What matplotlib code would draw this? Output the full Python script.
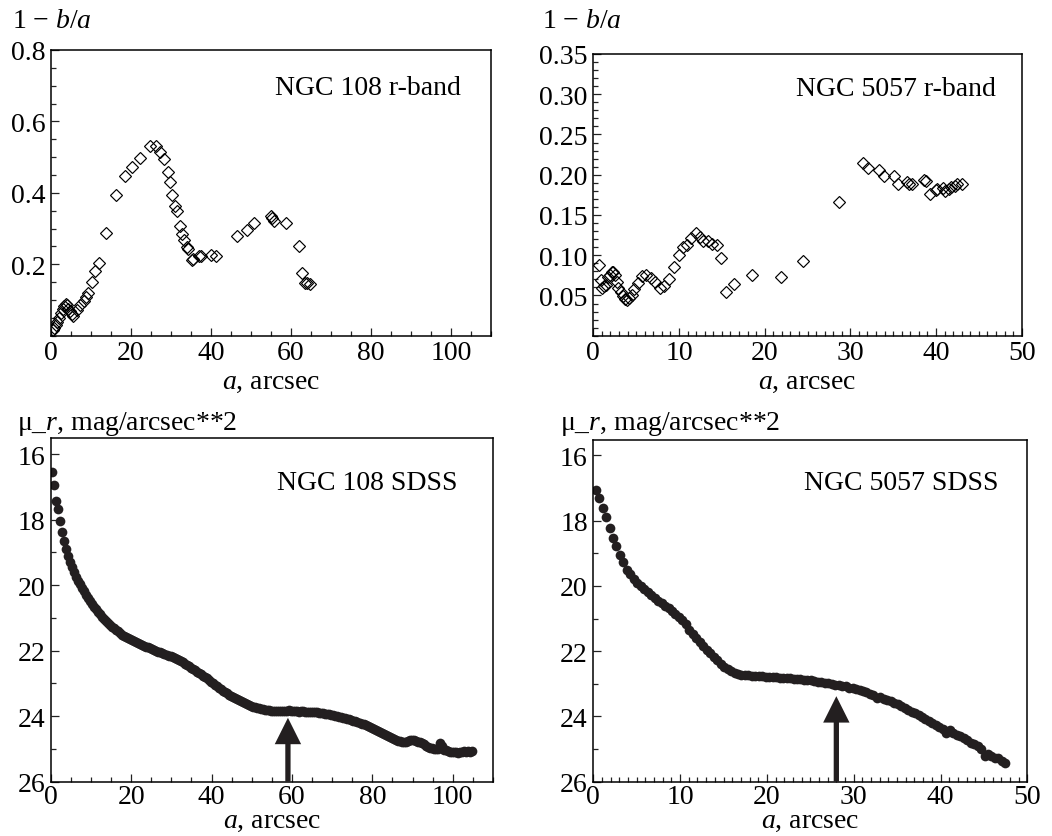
import numpy as np
import matplotlib
matplotlib.use("Agg")
import matplotlib.pyplot as plt
from matplotlib.ticker import MultipleLocator, FixedLocator, FormatStrFormatter

plt.rcParams['font.family'] = ['Liberation Serif', 'DejaVu Serif']
plt.rcParams['mathtext.fontset'] = 'custom'
plt.rcParams['mathtext.rm'] = 'Liberation Serif'
plt.rcParams['mathtext.it'] = 'Liberation Serif:italic'

# --- NGC 108, 1 - b/a (r-band) ---
a_108 = [0.66, 0.9, 1.24, 1.66, 2.16, 2.58, 3.0, 3.4, 3.8, 4.1, 4.4, 4.8, 5.2, 5.6,
         6.5, 7.3, 8.2, 8.8, 9.4, 10.25, 11.1, 12.0, 13.8, 16.4, 18.6, 20.2, 22.2,
         24.7, 26.3, 27.3, 28.3, 29.2, 29.8, 30.4, 31.0, 31.5, 32.2, 32.7, 33.2,
         34.0, 34.3, 35.3, 35.6, 37.0, 37.6, 40.1, 41.3, 46.5, 49.1, 50.8, 55.1,
         55.3, 55.7, 58.8, 62.0, 62.9, 63.6, 64.0, 64.7]
e_108 = [0.016, 0.021, 0.030, 0.039, 0.050, 0.063, 0.075, 0.084, 0.088, 0.086, 0.075,
         0.069, 0.061, 0.054, 0.072, 0.087, 0.097, 0.107, 0.120, 0.151, 0.180, 0.204,
         0.287, 0.394, 0.448, 0.472, 0.498, 0.531, 0.531, 0.513, 0.494, 0.457, 0.431,
         0.394, 0.362, 0.348, 0.306, 0.285, 0.269, 0.247, 0.243, 0.213, 0.214, 0.222,
         0.222, 0.226, 0.222, 0.278, 0.297, 0.315, 0.334, 0.329, 0.321, 0.316, 0.252,
         0.176, 0.147, 0.147, 0.145]

# --- NGC 5057, 1 - b/a (r-band) ---
a_5057 = [0.66, 0.93, 1.05, 1.25, 1.5, 1.67, 1.9, 2.14, 2.33, 2.5, 2.72, 2.92, 3.19,
          3.42, 3.7, 3.9, 4.16, 4.47, 4.79, 5.2, 5.7, 6.19, 6.7, 7.2, 7.74, 8.29, 8.87,
          9.38, 9.96, 10.47, 10.97, 11.44, 11.95, 12.4, 12.8, 13.35, 13.85, 14.4, 14.9,
          15.5, 16.4, 18.56, 21.87, 24.47, 28.7, 31.5, 32.1, 33.3, 33.9, 35.1, 35.6,
          36.65, 36.9, 37.2, 38.6, 38.8, 39.3, 39.96, 40.16, 40.8, 41.1, 41.5, 41.8,
          42.2, 42.4, 43.0]
e_5057 = [0.088, 0.069, 0.059, 0.062, 0.063, 0.073, 0.076, 0.079, 0.079, 0.075, 0.067,
          0.059, 0.054, 0.049, 0.045, 0.044, 0.047, 0.051, 0.058, 0.065, 0.074, 0.076,
          0.072, 0.067, 0.059, 0.062, 0.071, 0.085, 0.100, 0.110, 0.113, 0.122, 0.127,
          0.123, 0.118, 0.118, 0.114, 0.113, 0.096, 0.054, 0.064, 0.076, 0.073, 0.093,
          0.166, 0.214, 0.208, 0.206, 0.198, 0.198, 0.188, 0.191, 0.189, 0.188, 0.194,
          0.192, 0.176, 0.181, 0.182, 0.184, 0.180, 0.182, 0.185, 0.186, 0.189, 0.188]

# --- SDSS surface brightness profiles (radius grid start, step) ---
r0_108, dr_108 = 0.3, 0.5
mu_108 = [
    16.54, 16.95, 17.42, 17.68, 18.05, 18.38, 18.65, 18.90, 19.10, 19.30,
    19.45, 19.60, 19.74, 19.87, 19.98, 20.10, 20.19, 20.29, 20.38, 20.50,
    20.57, 20.66, 20.73, 20.82, 20.89, 20.96, 21.03, 21.10, 21.15, 21.21,
    21.27, 21.32, 21.37, 21.41, 21.46, 21.51, 21.55, 21.59, 21.62, 21.66,
    21.69, 21.72, 21.75, 21.78, 21.80, 21.83, 21.85, 21.88, 21.90, 21.93,
    21.95, 21.98, 22.00, 22.03, 22.05, 22.08, 22.10, 22.12, 22.15, 22.17,
    22.20, 22.23, 22.27, 22.30, 22.33, 22.36, 22.40, 22.44, 22.48, 22.52,
    22.56, 22.60, 22.64, 22.68, 22.72, 22.76, 22.80, 22.85, 22.90, 22.95,
    23.00, 23.04, 23.09, 23.13, 23.17, 23.22, 23.26, 23.30, 23.34, 23.38,
    23.42, 23.45, 23.49, 23.52, 23.55, 23.58, 23.61, 23.64, 23.67, 23.69,
    23.71, 23.73, 23.75, 23.76, 23.78, 23.79, 23.80, 23.81, 23.82, 23.83,
    23.84, 23.84, 23.85, 23.83, 23.84, 23.85, 23.83, 23.84, 23.82, 23.84,
    23.85, 23.83, 23.84, 23.86, 23.84, 23.85, 23.87, 23.86, 23.88, 23.86,
    23.87, 23.86, 23.88, 23.90, 23.89, 23.91, 23.93, 23.92, 23.94, 23.96,
    23.97, 23.99, 24.00, 24.02, 24.04, 24.05, 24.07, 24.09, 24.10, 24.12,
    24.14, 24.15, 24.17, 24.20, 24.23, 24.25, 24.28, 24.31, 24.34, 24.37,
    24.40, 24.42, 24.45, 24.48, 24.50, 24.53, 24.57, 24.60, 24.63, 24.66,
    24.69, 24.72, 24.75, 24.77, 24.79, 24.80, 24.78, 24.76, 24.74, 24.73,
    24.74, 24.76, 24.78, 24.80, 24.83, 24.86, 24.90, 24.93, 24.96, 24.98,
    25.00, 25.01, 25.00, 24.82, 24.90, 25.02, 25.04, 25.06, 25.08, 25.10,
    25.10, 25.09, 25.11, 25.08, 25.10, 25.07, 25.09, 25.06, 25.08, 25.07,
]
r0_5057, dr_5057 = 0.27, 0.4
mu_5057 = [
    17.05, 17.30, 17.61, 17.90, 18.22, 18.52, 18.79, 19.06, 19.26, 19.50,
    19.64, 19.78, 19.90, 20.01, 20.11, 20.19, 20.27, 20.38, 20.45, 20.53,
    20.61, 20.69, 20.77, 20.86, 20.96, 21.06, 21.18, 21.34, 21.46, 21.60,
    21.72, 21.84, 21.96, 22.07, 22.18, 22.28, 22.38, 22.47, 22.55, 22.61,
    22.66, 22.69, 22.72, 22.73, 22.74, 22.75, 22.76, 22.77, 22.77, 22.78,
    22.79, 22.80, 22.80, 22.81, 22.82, 22.83, 22.83, 22.84, 22.85, 22.86,
    22.88, 22.89, 22.88, 22.92, 22.93, 22.95, 22.97, 22.98, 23.00, 23.03,
    23.05, 23.07, 23.08, 23.12, 23.14, 23.15, 23.20, 23.22, 23.26, 23.30,
    23.34, 23.42, 23.40, 23.46, 23.50, 23.54, 23.58, 23.63, 23.68, 23.74,
    23.80, 23.85, 23.90, 23.96, 24.02, 24.07, 24.14, 24.20, 24.26, 24.32,
    24.38, 24.50, 24.42, 24.50, 24.57, 24.60, 24.67, 24.72, 24.82, 24.85,
    24.90, 25.00, 25.20, 25.16, 25.20, 25.26, 25.28, 25.36, 25.44,
]
arrow_108 = (59, 24.05)
arrow_5057 = (28, 23.38)

r_108 = r0_108 + dr_108 * np.arange(len(mu_108))
r_5057 = r0_5057 + dr_5057 * np.arange(len(mu_5057))

W, H = 1052, 837
fig = plt.figure(figsize=(W / 100, H / 100), dpi=100)


def px_axes(l, t, r, b):
    return fig.add_axes([l / W, 1 - b / H, (r - l) / W, (b - t) / H])


ax1 = px_axes(50.7, 51, 491, 336.7)
ax2 = px_axes(593.3, 55, 1021.7, 336.7)
ax3 = px_axes(50.7, 439.3, 493, 782.7)
ax4 = px_axes(593.3, 440.7, 1027.3, 782.7)

FS = 20
dot = '#231f20'

ax1.plot(a_108, e_108, 'D', ms=5.8, mfc='none', mec='black', mew=0.85)
ax2.plot(a_5057, e_5057, 'D', ms=5.8, mfc='none', mec='black', mew=0.85)
ax3.plot(r_108, mu_108, 'o', ms=7, color=dot, mec='none')
ax4.plot(r_5057, mu_5057, 'o', ms=7, color=dot, mec='none')

for ax, (xa, ya) in [(ax3, arrow_108), (ax4, arrow_5057)]:
    ax.annotate('', xy=(xa, ya), xytext=(xa, 26),
                arrowprops=dict(facecolor=dot, edgecolor='none', width=3.8,
                                headwidth=19, headlength=19, shrink=0))

# limits & ticks
ax1.set_xlim(0, 110); ax1.set_ylim(0, 0.8)
ax1.xaxis.set_major_locator(MultipleLocator(20)); ax1.xaxis.set_minor_locator(MultipleLocator(5))
ax1.yaxis.set_major_locator(FixedLocator([0.2, 0.4, 0.6, 0.8]))
ax1.yaxis.set_minor_locator(MultipleLocator(0.05))
ax1.yaxis.set_major_formatter(FormatStrFormatter('%.1f'))

ax2.set_xlim(0, 50); ax2.set_ylim(0, 0.35)
ax2.xaxis.set_major_locator(MultipleLocator(10)); ax2.xaxis.set_minor_locator(MultipleLocator(1))
ax2.yaxis.set_major_locator(FixedLocator([0.05, 0.10, 0.15, 0.20, 0.25, 0.30, 0.35]))
ax2.yaxis.set_minor_locator(MultipleLocator(0.01))
ax2.yaxis.set_major_formatter(FormatStrFormatter('%.2f'))

ax3.set_xlim(0, 110); ax3.set_ylim(26, 15.52)
ax3.xaxis.set_major_locator(MultipleLocator(20)); ax3.xaxis.set_minor_locator(MultipleLocator(5))

ax4.set_xlim(0, 50); ax4.set_ylim(26, 15.52)
ax4.xaxis.set_major_locator(MultipleLocator(10)); ax4.xaxis.set_minor_locator(MultipleLocator(1))

for ax in (ax3, ax4):
    ax.yaxis.set_major_locator(FixedLocator([16, 18, 20, 22, 24, 26]))
    ax.yaxis.set_minor_locator(MultipleLocator(1))

for ax in (ax1, ax2, ax3, ax4):
    ax.tick_params(which='both', direction='in', top=False, right=False,
                   labelsize=FS, width=0.9, color='#222')
    ax.tick_params(which='major', length=6)
    ax.tick_params(which='minor', length=3.5)
    ax.tick_params(axis='y', pad=4)
    for s in ax.spines.values():
        s.set_linewidth(1.1)

for ax in (ax1, ax2):
    ax.tick_params(axis='x', pad=3)
    ax.set_xlabel('$a$, arcsec', fontsize=FS, labelpad=3)
for ax in (ax3, ax4):
    ax.tick_params(axis='x', pad=2)
    ax.set_xlabel('$a$, arcsec', fontsize=FS, labelpad=-1)

ax1.text(0.932, 0.87, 'NGC 108 r-band', transform=ax1.transAxes, ha='right', va='center', fontsize=FS)
ax2.text(0.94, 0.879, 'NGC 5057 r-band', transform=ax2.transAxes, ha='right', va='center', fontsize=FS)
ax3.text(0.919, 0.872, 'NGC 108 SDSS', transform=ax3.transAxes, ha='right', va='center', fontsize=FS)
ax4.text(0.933, 0.875, 'NGC 5057 SDSS', transform=ax4.transAxes, ha='right', va='center', fontsize=FS)

fig.text(12 / W, 1 - 21 / H, '1 \u2212 $b/a$', fontsize=FS, ha='left', va='center')
fig.text(541.7 / W, 1 - 21 / H, '1 \u2212 $b/a$', fontsize=FS, ha='left', va='center')
fig.text(16.7 / W, 1 - 424 / H, '\u03bc_$r$, mag/arcsec**2', fontsize=FS, ha='left', va='center')
fig.text(560 / W, 1 - 424 / H, '\u03bc_$r$, mag/arcsec**2', fontsize=FS, ha='left', va='center')

fig.savefig('out.png', dpi=100)
